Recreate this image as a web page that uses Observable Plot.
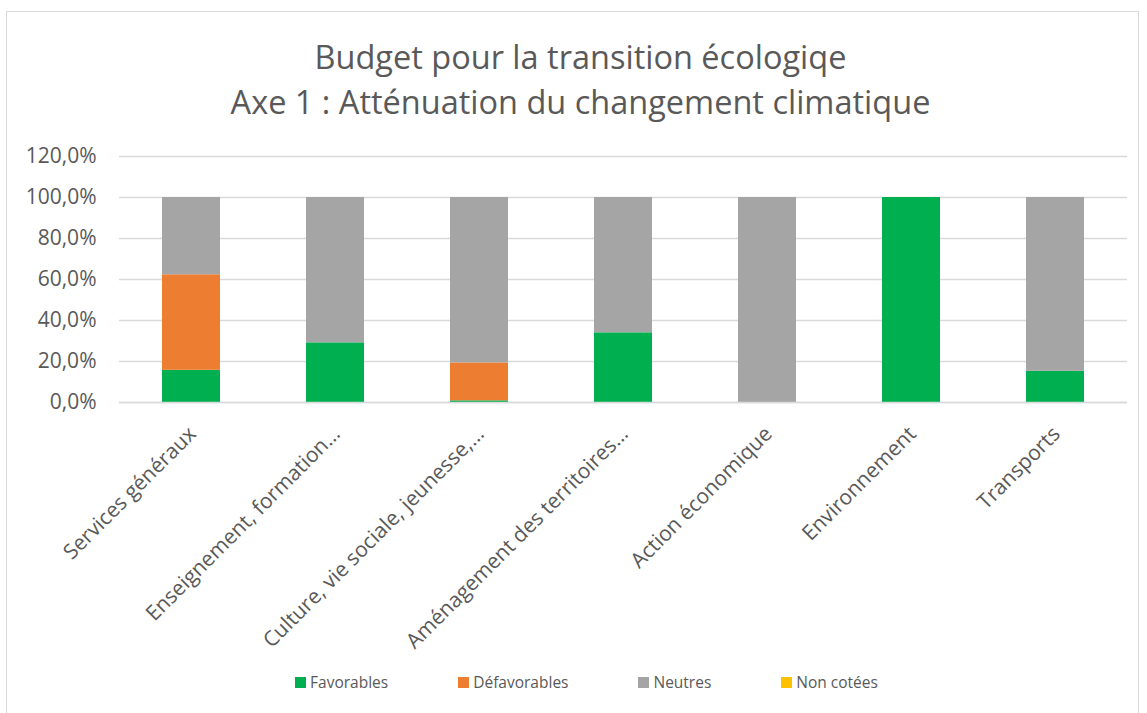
<!DOCTYPE html>
<html>
<head>
<meta charset="utf-8">
<script src="https://cdn.jsdelivr.net/npm/d3@7"></script>
<script src="https://cdn.jsdelivr.net/npm/@observablehq/plot@0.6"></script>
<style>
  html, body { margin: 0; padding: 0; background: #fff; }
  #wrap { position: relative; width: 1147px; height: 713px; overflow: hidden; font-family: "Open Sans", sans-serif; color: #595959; }
  #frame { position: absolute; left: 6px; top: 11px; width: 1133px; height: 760px; border: 1.5px solid #d9d9d9; box-sizing: border-box; }
  #title { position: absolute; left: 7px; width: 1147px; top: 34px; text-align: center; font-size: 32.5px; line-height: 45px; color: #595959; }
  #chart { position: absolute; left: 0; top: 140px; }
  #legend { position: absolute; left: 13px; width: 1147px; top: 671px; display: flex; justify-content: center; font-size: 15.5px; color: #595959; }
  .item { display: flex; align-items: center; margin: 0 35px; }
  .sw { width: 11px; height: 11px; margin-right: 4px; display: inline-block; }
</style>
</head>
<body>
<div id="wrap">
  <div id="frame"></div>
  <div id="title">Budget pour la transition écologiqe<br>Axe 1 : Atténuation du changement climatique</div>
  <div id="chart"></div>
  <div id="legend"></div>
</div>
<script>
const categories = [
  "Services généraux",
  "Enseignement, formation…",
  "Culture, vie sociale, jeunesse,…",
  "Aménagement des territoires…",
  "Action économique",
  "Environnement",
  "Transports"
];
const favorables    = [0.157, 0.291, 0.008, 0.340, 0.000, 1.000, 0.152];
const defavorables  = [0.466, 0.000, 0.185, 0.000, 0.000, 0.000, 0.000];
const neutres       = [0.377, 0.709, 0.807, 0.660, 1.000, 0.000, 0.848];
const nonCotees     = [0, 0, 0, 0, 0, 0, 0];
const seriesNames   = ["Favorables", "Défavorables", "Neutres", "Non cotées"];
const seriesColors  = ["#00B050", "#ED7D31", "#A5A5A5", "#FFC000"];
const yTicks        = [0, 0.2, 0.4, 0.6, 0.8, 1.0, 1.2];

const seriesValues = [favorables, defavorables, neutres, nonCotees];
const rows = [];
seriesNames.forEach((s, si) => {
  categories.forEach((c, ci) => {
    rows.push({category: c, series: s, value: seriesValues[si][ci], order: si});
  });
});

const fmt = d => (d * 100).toFixed(1).replace(".", ",") + "%";

const chart = Plot.plot({
  width: 1147,
  height: 520,
  marginLeft: 119,
  marginRight: 20,
  marginTop: 16,
  marginBottom: 258,
  style: {fontFamily: "Open Sans, sans-serif", color: "#595959", background: "transparent"},
  x: {domain: categories, paddingInner: 0.6, paddingOuter: 0.3, label: null},
  y: {domain: [0, 1.2], label: null},
  color: {domain: seriesNames, range: seriesColors},
  marks: [
    Plot.gridY(yTicks, {stroke: "#d9d9d9", strokeOpacity: 1, strokeWidth: 1.5}),
    Plot.barY(rows, Plot.stackY({order: "order"}, {x: "category", y: "value", fill: "series"})),
    Plot.ruleY([0], {stroke: "#d9d9d9", strokeWidth: 1.5}),
    Plot.axisY(yTicks, {tickFormat: fmt, label: null, tickSize: 0, tickPadding: 23, fontSize: 21, fill: "#595959"}),
    Plot.axisX({label: null, tickSize: 0, tickRotate: -45, tickPadding: 28, dx: 1, fontSize: 21, fill: "#595959"})
  ]
});
document.getElementById("chart").appendChild(chart);

const legend = document.getElementById("legend");
seriesNames.forEach((s, i) => {
  const it = document.createElement("div");
  it.className = "item";
  const sw = document.createElement("span");
  sw.className = "sw";
  sw.style.background = seriesColors[i];
  const t = document.createElement("span");
  t.textContent = s;
  it.appendChild(sw);
  it.appendChild(t);
  legend.appendChild(it);
});
</script>
</body>
</html>
